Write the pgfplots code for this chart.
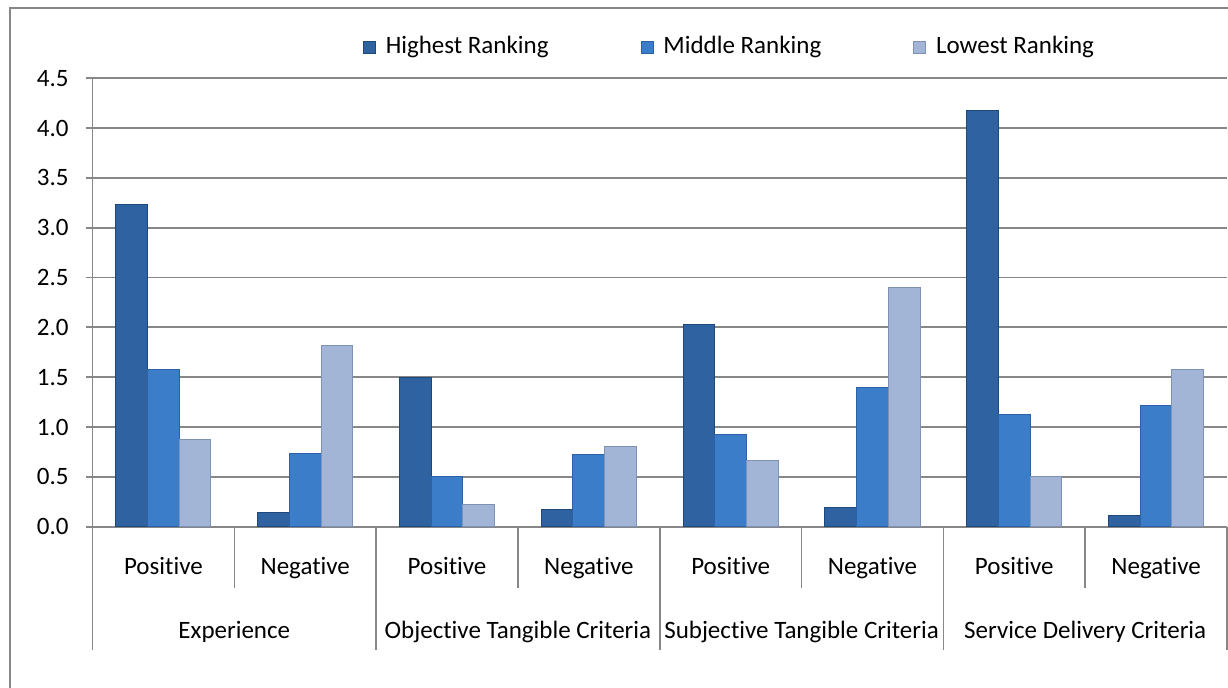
\documentclass[border=0pt]{standalone}
\usepackage{fontspec}
\setmainfont{Carlito}[Ligatures={NoCommon}]
\usepackage{pgfplots}
\pgfplotsset{compat=1.18}
\definecolor{gridgray}{HTML}{878787}
\definecolor{hiF}{HTML}{2E62A0}
\definecolor{hiD}{HTML}{1F4779}
\definecolor{miF}{HTML}{3B7DC8}
\definecolor{miD}{HTML}{2A62A5}
\definecolor{loF}{HTML}{A2B5D7}
\definecolor{loD}{HTML}{7F92B5}
\pgfplotsset{sqlegend/.style={legend image code/.code={\draw[##1,line width=0.4pt] (0pt,-3pt) rectangle (6pt,3pt);}}}
\begin{document}
\fontsize{12.5}{15}\selectfont
\begin{tikzpicture}
\useasboundingbox (0,0) rectangle (614pt,-343.5pt);
\begin{scope}
\clip (0,0) rectangle (614pt,-343.5pt);
\draw[gridgray, line width=0.75pt] (5pt,-4pt) rectangle (640pt,-370pt);
\end{scope}
\begin{axis}[
  at={(46.25pt,-263.3pt)}, anchor=south west,
  scale only axis, width=567.25pt, height=224.15pt,
  xmin=-0.5, xmax=7.5, ymin=0, ymax=4.5,
  enlargelimits=false, clip=false,
  ybar=0pt, bar width=15.85pt,
  axis lines*=left,
  axis line style={gridgray, line width=0.9pt},
  ymajorgrids, grid style={gridgray, line width=0.9pt},
  ytick={0,0.5,1,1.5,2,2.5,3,3.5,4,4.5},
  /pgf/number format/fixed, /pgf/number format/fixed zerofill,
  /pgf/number format/precision=1, /pgf/number format/assume math mode=true,
  y tick label style={anchor=east, inner sep=0pt, xshift=-8.25pt},
  tick align=outside, major tick length=3.5pt,
  ytick style={gridgray, line width=0.9pt},
  xtick={0,1,2,3,4,5,6,7},
  xticklabels={Positive,Negative,Positive,Negative,Positive,Negative,Positive,Negative},
  xtick style={draw=none},
  x tick label style={anchor=base, inner sep=0pt, yshift=-20.2pt},
  legend columns=3,
  legend style={at={(axis description cs:0.2384,1.0698)}, anchor=west,
    draw=none, fill=none, inner sep=0pt, outer sep=0pt,
    nodes={inner sep=0pt},
    /tikz/every odd column/.append style={column sep=5pt},
    /tikz/every even column/.append style={column sep=46pt}},
]
\addplot[fill=hiF, draw=hiD, line width=0.5pt, sqlegend] coordinates {(0,3.23) (1,0.14) (2,1.50) (3,0.17) (4,2.03) (5,0.19) (6,4.18) (7,0.11)};
\addplot[fill=miF, draw=miD, line width=0.5pt, sqlegend] coordinates {(0,1.58) (1,0.73) (2,0.50) (3,0.72) (4,0.92) (5,1.40) (6,1.13) (7,1.22)};
\addplot[fill=loF, draw=loD, line width=0.5pt, sqlegend] coordinates {(0,0.87) (1,1.82) (2,0.22) (3,0.80) (4,0.66) (5,2.40) (6,0.50) (7,1.58)};
\legend{Highest Ranking, Middle Ranking, Lowest Ranking}
\pgfplotsinvokeforeach{-0.5,1.5,3.5,5.5,7.5}{\draw[gridgray, line width=0.75pt] (axis cs:#1,0) -- ++(0pt,-61.7pt);}
\pgfplotsinvokeforeach{0.5,2.5,4.5,6.5}{\draw[gridgray, line width=0.75pt] (axis cs:#1,0) -- ++(0pt,-30.7pt);}
\node[anchor=base, yshift=-55.7pt] at (axis cs:0.5,0) {Experience};
\node[anchor=base, yshift=-55.7pt] at (axis cs:2.5,0) {Objective Tangible Criteria};
\node[anchor=base, yshift=-55.7pt] at (axis cs:4.5,0) {Subjective Tangible Criteria};
\node[anchor=base, yshift=-55.7pt] at (axis cs:6.5,0) {Service Delivery Criteria};
\end{axis}
\end{tikzpicture}
\end{document}
